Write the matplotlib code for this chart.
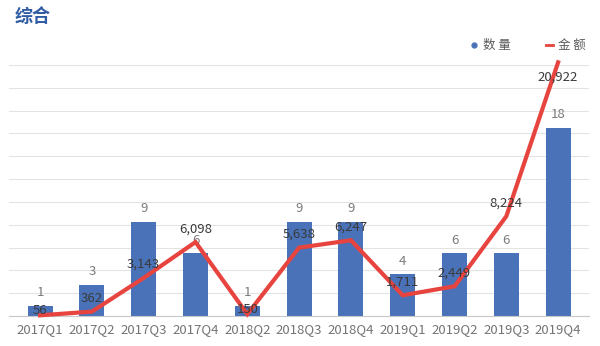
import matplotlib.pyplot as plt
import numpy as np
from matplotlib.lines import Line2D

plt.rcParams['font.family'] = ['Noto Sans CJK SC', 'DejaVu Sans']

quarters = ['2017Q1', '2017Q2', '2017Q3', '2017Q4', '2018Q2', '2018Q3',
            '2018Q4', '2019Q1', '2019Q2', '2019Q3', '2019Q4']
counts = [1, 3, 9, 6, 1, 9, 9, 4, 6, 6, 18]
amounts = [56, 362, 3143, 6098, 150, 5638, 6247, 1711, 2449, 8224, 20922]

bar_color = '#4a72b8'
line_color = '#e8443f'

fig = plt.figure(figsize=(6, 3.46), dpi=100)
ax = fig.add_axes([0.015, 0.0867, 0.967, 0.7254])
ax2 = ax.twinx()

x = np.arange(len(quarters))
ax.bar(x, counts, width=0.48, color=bar_color, zorder=2)
ax.set_ylim(0, 24)
ax.set_xlim(-0.6, len(quarters) - 0.4)
ax.set_yticks(np.linspace(0, 24, 12))
ax.yaxis.grid(True, color='#e3e3e3', lw=0.8, zorder=0)
ax.set_axisbelow(True)
ax.tick_params(axis='y', left=False, labelleft=False)
ax.tick_params(axis='x', length=0, pad=5, labelsize=9.5, labelcolor='#747474')
ax.set_xticks(x)
ax.set_xticklabels(quarters)
for s in ['top', 'right', 'left']:
    ax.spines[s].set_visible(False)
ax.spines['bottom'].set_color('#c8c8c8')

# count labels sit just above each bar
for xi, c in zip(x, counts):
    ax.text(xi, c + 1.25, str(c), ha='center', va='center',
            fontsize=9.5, color='#7a7a7a')

ax2.plot(x, amounts, color=line_color, lw=3, zorder=3, clip_on=False,
         solid_joinstyle='miter')
ax2.set_ylim(0, 20700)
ax2.axis('off')

# amount labels: above the point, tighter near the baseline, below at the peak
for xi, a in zip(x, amounts):
    if a == max(amounts):
        ly = a - 1250
    elif a < 300:
        ly = a + 420
    else:
        ly = a + 1100
    ax2.text(xi, ly, f'{a:,}', ha='center', va='center',
             fontsize=9.5, color='#3a3a3a')

fig.text(0.025, 0.953, '综合', fontsize=13, fontweight='bold',
         color='#2f5ca3', va='center', ha='left')

handles = [
    Line2D([], [], marker='o', ls='none', ms=3.5, color=bar_color),
    Line2D([], [], color=line_color, lw=2),
]
fig.legend(handles, ['数 量', '金 额'], loc='center right',
           bbox_to_anchor=(0.995, 0.868), ncol=2, frameon=False,
           fontsize=9, labelcolor='#5a5a5a', handlelength=0.6,
           handletextpad=0.4, columnspacing=2.8)

fig.savefig('out.png', dpi=100)
